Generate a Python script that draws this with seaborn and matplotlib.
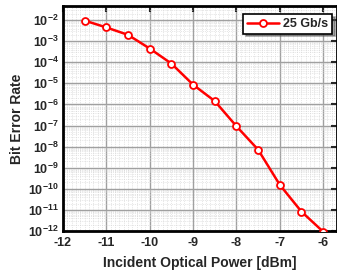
import numpy as np
import seaborn as sns
import pandas as pd
from matplotlib import pyplot as plt
from matplotlib.ticker import LogLocator, MultipleLocator, LogFormatterSciNotation, NullFormatter

power_dbm = [-11.5, -11.0, -10.5, -10.0, -9.5, -9.0, -8.5, -8.0, -7.5, -7.0, -6.5, -6.0]
ber = [9.5e-3, 4.5e-3, 2.0e-3, 4.5e-4, 8.7e-5, 8.7e-6, 1.45e-6, 9.3e-8, 7.2e-9, 1.55e-10, 8.3e-12, 9.3e-13]
series_label = "25 Gb/s"

sns.set_style("white")
plt.rcParams['font.family'] = ['Liberation Sans', 'DejaVu Sans']
plt.rcParams['font.weight'] = 'bold'
plt.rcParams['axes.unicode_minus'] = False
plt.rcParams['mathtext.fontset'] = 'custom'
plt.rcParams['mathtext.rm'] = 'Liberation Sans:bold'
plt.rcParams['mathtext.bf'] = 'Liberation Sans:bold'
plt.rcParams['mathtext.default'] = 'bf'

df = pd.DataFrame({"power": power_dbm, "ber": ber, "rate": series_label})

fig = plt.figure(figsize=(3.37, 2.72), dpi=100)
ax = fig.add_axes([63 / 337, 1 - 231 / 272, 1 - 63 / 337, 225 / 272])

sns.lineplot(data=df, x="power", y="ber", hue="rate", palette=["#ff0000"], marker="o",
             markersize=5, markerfacecolor="white", markeredgecolor="#ff0000",
             markeredgewidth=1.3, linewidth=1.8, ax=ax, zorder=5)

ax.set_yscale("log")
ax.set_xlim(-12, -5.68)
ax.set_ylim(1e-12, 10 ** -1.33)

ax.xaxis.set_major_locator(MultipleLocator(1))
ax.xaxis.set_minor_locator(MultipleLocator(0.1))
ax.yaxis.set_major_locator(LogLocator(base=10, numticks=20))
ax.yaxis.set_minor_locator(LogLocator(base=10, subs=np.arange(2, 10), numticks=20))
ax.yaxis.set_major_formatter(LogFormatterSciNotation())
ax.yaxis.set_minor_formatter(NullFormatter())

ax.grid(which="major", color="#a0a0a0", linewidth=1.0)
ax.grid(which="minor", color="#d0d0d0", linewidth=0.5, linestyle=":")

ax.tick_params(which="major", direction="in", length=4, width=1.5, top=True, right=True,
               labelsize=9, pad=4)
ax.tick_params(axis="y", which="major", pad=3)
ax.tick_params(which="minor", length=0)
for s in ax.spines.values():
    s.set_linewidth(2)
    s.set_color("black")

ax.set_xlabel("Incident Optical Power [dBm]", fontsize=10, fontweight="bold", labelpad=5)
ax.set_ylabel("Bit Error Rate", fontsize=10, fontweight="bold", labelpad=3)

leg = ax.legend(loc="upper right", bbox_to_anchor=(0.99, 0.975), frameon=True, fancybox=False,
                shadow=True, fontsize=9, handlelength=2.6, borderpad=0.3,
                handletextpad=0.3, borderaxespad=0.2)
leg.get_frame().set_edgecolor("black")
leg.get_frame().set_linewidth(1.2)
for t in leg.get_texts():
    t.set_fontweight("bold")

fig.savefig("out.png", dpi=100)
